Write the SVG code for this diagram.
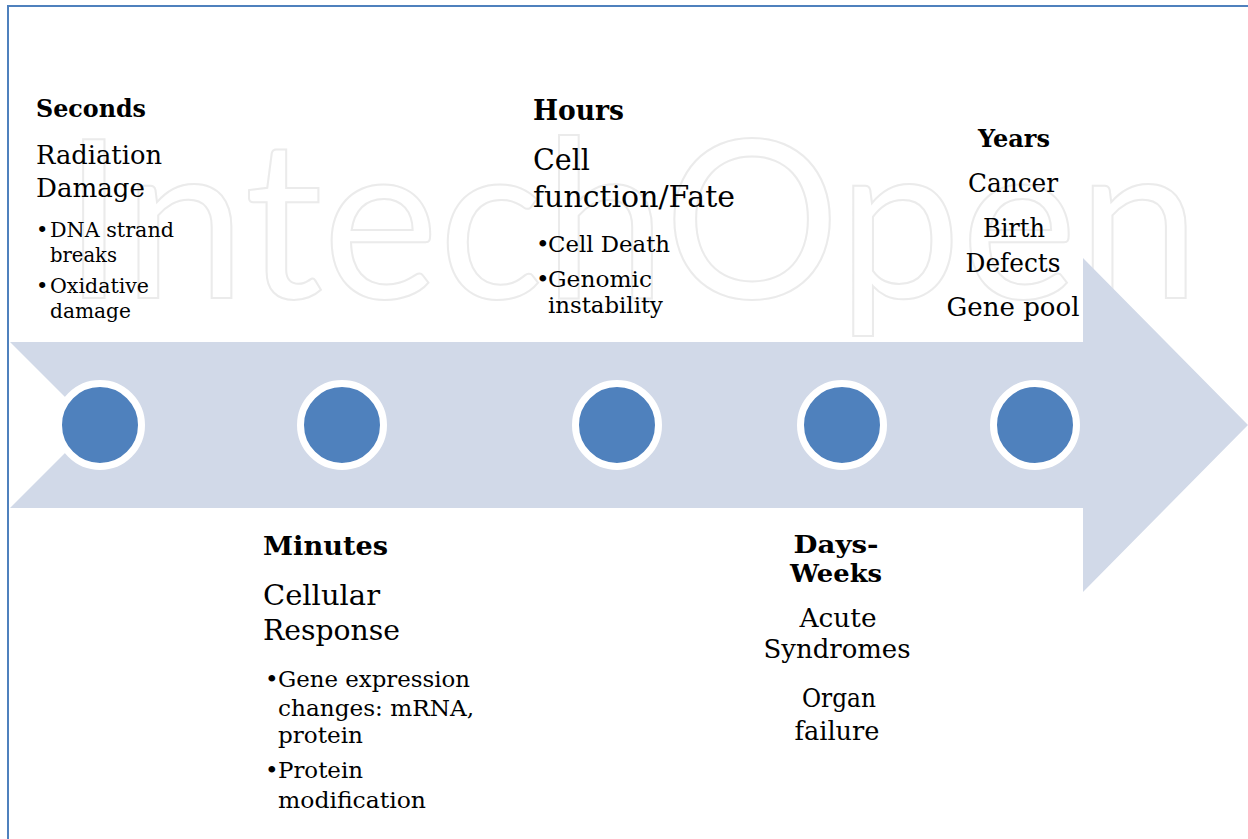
<svg xmlns="http://www.w3.org/2000/svg" width="1248" height="839" viewBox="0 0 1248 839">
<style>
text{font-family:"DejaVu Serif","Liberation Serif",serif;fill:#000}
.h{font-weight:bold}
.mid{text-anchor:middle}
.wm{font-family:Lato,"DejaVu Sans",sans-serif;fill:none;stroke:#ebebeb;stroke-width:2}
.dot{fill:#4F81BD;stroke:#fff;stroke-width:7}
</style>
<rect width="1248" height="839" fill="#fff"/>
<path d="M8,839 V6 H1248" fill="none" stroke="#4F81BD" stroke-width="2"/>
<text class="wm" x="63" y="298" font-size="222" textLength="1137" lengthAdjust="spacingAndGlyphs">IntechOpen</text>
<g id="arrow">
<polygon points="10,342 1083,342 1083,258 1248,425 1083,592 1083,508 10,508 93,425" fill="#D1D9E8"/>
</g>
<g id="markers">
<circle class="dot" cx="100" cy="425" r="41.5"/>
<circle class="dot" cx="342" cy="425" r="41.5"/>
<circle class="dot" cx="617" cy="425" r="41.5"/>
<circle class="dot" cx="842" cy="425" r="41.5"/>
<circle class="dot" cx="1035" cy="425" r="41.5"/>
</g>
<g id="connectors"></g>
<g id="seconds">
<text class="h" x="36" y="117" font-size="25" textLength="110" lengthAdjust="spacingAndGlyphs">Seconds</text>
<text x="36" y="164" font-size="26" textLength="126" lengthAdjust="spacingAndGlyphs">Radiation</text>
<text x="36" y="197" font-size="26" textLength="109" lengthAdjust="spacingAndGlyphs">Damage</text>
<text font-size="21"><tspan x="36" y="237">•</tspan><tspan x="50" y="237" textLength="124" lengthAdjust="spacingAndGlyphs">DNA strand</tspan></text>
<text x="50" y="262" font-size="21" textLength="67" lengthAdjust="spacingAndGlyphs">breaks</text>
<text font-size="21"><tspan x="36" y="293">•</tspan><tspan x="50" y="293" textLength="99" lengthAdjust="spacingAndGlyphs">Oxidative</tspan></text>
<text x="50" y="318" font-size="21" textLength="81" lengthAdjust="spacingAndGlyphs">damage</text>
</g>
<g id="minutes">
<text class="h" x="263" y="555" font-size="26" textLength="125" lengthAdjust="spacingAndGlyphs">Minutes</text>
<text x="263" y="605" font-size="28" textLength="117" lengthAdjust="spacingAndGlyphs">Cellular</text>
<text x="263" y="640" font-size="28" textLength="137" lengthAdjust="spacingAndGlyphs">Response</text>
<text font-size="23"><tspan x="265" y="687">•</tspan><tspan x="278" y="687" textLength="192" lengthAdjust="spacingAndGlyphs">Gene expression</tspan></text>
<text x="278" y="716" font-size="23" textLength="196" lengthAdjust="spacingAndGlyphs">changes: mRNA,</text>
<text x="278" y="743" font-size="23" textLength="85" lengthAdjust="spacingAndGlyphs">protein</text>
<text font-size="23"><tspan x="265" y="778">•</tspan><tspan x="278" y="778" textLength="85" lengthAdjust="spacingAndGlyphs">Protein</tspan></text>
<text x="278" y="808" font-size="23" textLength="148" lengthAdjust="spacingAndGlyphs">modification</text>
</g>
<g id="hours">
<text class="h" x="533" y="120" font-size="28" textLength="91" lengthAdjust="spacingAndGlyphs">Hours</text>
<text x="533" y="170" font-size="30" textLength="57" lengthAdjust="spacingAndGlyphs">Cell</text>
<text x="533" y="207" font-size="30" textLength="202" lengthAdjust="spacingAndGlyphs">function/Fate</text>
<text font-size="23"><tspan x="536" y="252">•</tspan><tspan x="548" y="252" textLength="122" lengthAdjust="spacingAndGlyphs">Cell Death</tspan></text>
<text font-size="23"><tspan x="536" y="287">•</tspan><tspan x="548" y="287" textLength="104" lengthAdjust="spacingAndGlyphs">Genomic</tspan></text>
<text x="548" y="313" font-size="23" textLength="115" lengthAdjust="spacingAndGlyphs">instability</text>
</g>
<g id="days-weeks">
<text class="h mid" x="836" y="553" font-size="25" textLength="85" lengthAdjust="spacingAndGlyphs">Days-</text>
<text class="h mid" x="836" y="582" font-size="25" textLength="92" lengthAdjust="spacingAndGlyphs">Weeks</text>
<text class="mid" x="838" y="627" font-size="26" textLength="77" lengthAdjust="spacingAndGlyphs">Acute</text>
<text class="mid" x="837" y="658" font-size="26" textLength="147" lengthAdjust="spacingAndGlyphs">Syndromes</text>
<text class="mid" x="839" y="707" font-size="26" textLength="74" lengthAdjust="spacingAndGlyphs">Organ</text>
<text class="mid" x="837" y="740" font-size="26" textLength="85" lengthAdjust="spacingAndGlyphs">failure</text>
</g>
<g id="years">
<text class="h mid" x="1014" y="147" font-size="25" textLength="72" lengthAdjust="spacingAndGlyphs">Years</text>
<text class="mid" x="1013" y="192" font-size="26" textLength="90" lengthAdjust="spacingAndGlyphs">Cancer</text>
<text class="mid" x="1014" y="237" font-size="26" textLength="62" lengthAdjust="spacingAndGlyphs">Birth</text>
<text class="mid" x="1013" y="272" font-size="26" textLength="95" lengthAdjust="spacingAndGlyphs">Defects</text>
<text class="mid" x="1013" y="316" font-size="26" textLength="133" lengthAdjust="spacingAndGlyphs">Gene pool</text>
</g>
</svg>
